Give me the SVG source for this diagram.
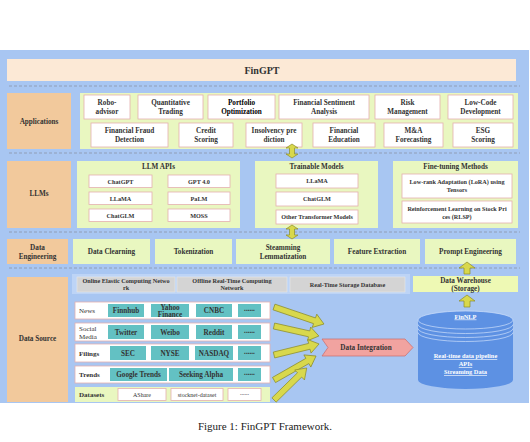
<svg xmlns="http://www.w3.org/2000/svg" width="530" height="442" viewBox="0 0 530 442">
<style>
text{font-family:"Liberation Serif","Times New Roman",serif;text-anchor:middle;fill:#333;}
.b{font-weight:bold;}
.t7{font-size:7.2px;font-weight:bold;}
.t6{font-size:6.2px;font-weight:bold;}
.lab{fill:#f2c99c;}
.pan{fill:#e9f7c0;}
.wb{fill:#fff;stroke:#e4b0b0;stroke-width:0.8;}
.teal{fill:#63c1c3;}
.gray{fill:#d4d4d4;stroke:#e6e6e6;stroke-width:0.6;}
.dash{stroke:#8a96a8;stroke-width:0.8;stroke-dasharray:3 2;fill:none;}
.ya{fill:#d8d84c;stroke:#8c8c2a;stroke-width:0.7;}
.rl{font-size:7px;text-anchor:start;fill:#333;}
.wt{fill:#fff;font-size:6.4px;font-weight:bold;text-decoration:underline;}
</style>
<defs>
<path id="dbl" d="M0,-7 L6,-3 L2.5,-3 L2.5,3 L6,3 L0,7 L-6,3 L-2.5,3 L-2.5,-3 L-6,-3 Z"/>
<path id="up" d="M0,-6 L8,0 L3,0 L3,6 L-3,6 L-3,0 L-8,0 Z"/>
</defs>
<rect width="530" height="442" fill="#fff"/>
<rect x="0" y="50" width="529" height="353" fill="#a8c6f2"/>

<g id="title">
<rect x="7" y="59" width="509" height="22" fill="#fce9d6"/>
<text x="262" y="73.5" style="font-size:10px;font-weight:bold;fill:#333">FinGPT</text>
</g>

<g id="dividers">
<line class="dash" x1="9" y1="86" x2="520" y2="86"/>
<line class="dash" x1="9" y1="153" x2="520" y2="153"/>
<line class="dash" x1="9" y1="232" x2="520" y2="232"/>
<line class="dash" x1="9" y1="268" x2="520" y2="268"/>
</g>

<g id="applications">
<rect class="lab" x="7" y="93" width="64" height="56"/>
<text class="t7" x="39" y="123.5">Applications</text>
<rect class="pan" x="80" y="93" width="438" height="56"/>
<g class="t7">
<rect class="wb" x="84" y="95" width="46" height="24"/>
<text x="107" y="104.5">Robo-<tspan x="107" dy="9">advisor</tspan></text>
<rect class="wb" x="138" y="95" width="65" height="24"/>
<text x="170.5" y="104.5">Quantitative<tspan x="170.5" dy="9">Trading</tspan></text>
<rect class="wb" x="208" y="95" width="67" height="24"/>
<text x="241.5" y="104.5" style="fill:#000">Portfolio<tspan x="241.5" dy="9">Optimization</tspan></text>
<rect class="wb" x="279" y="95" width="90" height="24"/>
<text x="324" y="104.5">Financial Sentiment<tspan x="324" dy="9">Analysis</tspan></text>
<rect class="wb" x="375" y="95" width="65" height="24"/>
<text x="407.5" y="104.5">Risk<tspan x="407.5" dy="9">Management</tspan></text>
<rect class="wb" x="448" y="95" width="65" height="24"/>
<text x="480.5" y="104.5">Low-Code<tspan x="480.5" dy="9">Development</tspan></text>

<rect class="wb" x="91" y="123" width="77" height="24"/>
<text x="129.5" y="132.5">Financial Fraud<tspan x="129.5" dy="9">Detection</tspan></text>
<rect class="wb" x="179" y="123" width="54" height="24"/>
<text x="206" y="132.5">Credit<tspan x="206" dy="9">Scoring</tspan></text>
<rect class="wb" x="246" y="123" width="56" height="24"/>
<text x="274" y="132.5">Insolvency pre<tspan x="274" dy="9">diction</tspan></text>
<rect class="wb" x="313" y="123" width="62" height="24"/>
<text x="344" y="132.5">Financial<tspan x="344" dy="9">Education</tspan></text>
<rect class="wb" x="384" y="123" width="59" height="24"/>
<text x="413.5" y="132.5">M&amp;A<tspan x="413.5" dy="9">Forecasting</tspan></text>
<rect class="wb" x="453" y="123" width="60" height="24"/>
<text x="483" y="132.5">ESG<tspan x="483" dy="9">Scoring</tspan></text>
</g>
</g>

<g id="llms">
<rect class="lab" x="7" y="161" width="64" height="67"/>
<text class="t7" x="39" y="196">LLMs</text>
</g>

<g id="llm-apis">
<rect class="pan" x="77" y="161" width="163" height="67"/>
<text class="t7" x="158.5" y="168.5">LLM APIs</text>
<g class="t6">
<rect class="wb" x="89" y="175" width="63" height="12.5"/>
<text x="120.5" y="183.5">ChatGPT</text>
<rect class="wb" x="168" y="175" width="62" height="12.5"/>
<text x="199" y="183.5">GPT 4.0</text>
<rect class="wb" x="89" y="192" width="63" height="12.5"/>
<text x="120.5" y="200.5">LLaMA</text>
<rect class="wb" x="168" y="192" width="62" height="12.5"/>
<text x="199" y="200.5">PaLM</text>
<rect class="wb" x="89" y="209" width="63" height="12.5"/>
<text x="120.5" y="217.5">ChatGLM</text>
<rect class="wb" x="168" y="209" width="62" height="12.5"/>
<text x="199" y="217.5">MOSS</text>
</g>
</g>

<g id="trainable-models">
<rect class="pan" x="255" y="161" width="123" height="67"/>
<text class="t7" x="316.5" y="168.5">Trainable Models</text>
<g class="t6">
<rect class="wb" x="276" y="174" width="82" height="14"/>
<text x="317" y="183.3">LLaMA</text>
<rect class="wb" x="276" y="192" width="82" height="14"/>
<text x="317" y="201.3">ChatGLM</text>
<rect class="wb" x="276" y="210" width="82" height="14"/>
<text x="317" y="219.3">Other Transformer Models</text>
</g>
</g>

<g id="fine-tuning">
<rect class="pan" x="393" y="161" width="125" height="67"/>
<text class="t7" x="455.5" y="168.5">Fine-tuning Methods</text>
<g class="t6">
<rect class="wb" x="402" y="174" width="110" height="24"/>
<text x="457" y="184">Low-rank Adaptation (LoRA) using<tspan x="457" dy="8">Tensors</tspan></text>
<rect class="wb" x="402" y="201" width="110" height="22"/>
<text x="457" y="210.5">Reinforcement Learning on Stock Pri<tspan x="457" dy="8">ces (RLSP)</tspan></text>
</g>
</g>

<g id="data-engineering">
<rect class="lab" x="7" y="239" width="61" height="25"/>
<text class="t7" x="37.5" y="249.5">Data<tspan x="37.5" dy="9">Engineering</tspan></text>
<g class="t7">
<rect class="pan" x="73" y="239" width="77" height="25"/>
<text x="111.5" y="254">Data Clearning</text>
<rect class="pan" x="155" y="239" width="77" height="25"/>
<text x="193.5" y="254">Tokenization</text>
<rect class="pan" x="236" y="239" width="94" height="25"/>
<text x="283" y="249.5">Steamming<tspan x="283" dy="9">Lemmatization</tspan></text>
<rect class="pan" x="334" y="239" width="86" height="25"/>
<text x="377" y="254">Feature Extraction</text>
<rect class="pan" x="425" y="239" width="91" height="25"/>
<text x="470.5" y="254">Prompt Engineering</text>
</g>
</g>

<g id="data-source">
<rect class="lab" x="7" y="277" width="61" height="125"/>
<text class="t7" x="37.5" y="341">Data Source</text>
</g>

<g id="infrastructure">
<rect x="72" y="274" width="338" height="20" fill="#bdd4f6"/>
<g class="t6">
<rect class="gray" x="77" y="277" width="98" height="15"/>
<text x="126" y="283.3">Online Elastic Computing Netwo<tspan x="126" dy="7">rk</tspan></text>
<rect class="gray" x="177" y="277" width="110" height="15"/>
<text x="232" y="283.3">Offline Real-Time Computing<tspan x="232" dy="7">Network</tspan></text>
<rect class="gray" x="290" y="277" width="115" height="15"/>
<text x="347.5" y="286.7">Real-Time Storage Database</text>
</g>
</g>

<g id="data-warehouse">
<rect x="413" y="276" width="105" height="16" fill="#eef9b4"/>
<text class="t7" x="465.5" y="282.5">Data Warehouse<tspan x="465.5" dy="8">(Storage)</tspan></text>
</g>

<g id="news">
<rect class="wb" x="75" y="302" width="195" height="17"/>
<text class="rl" x="79" y="313">News</text>
<g class="t7">
<rect class="teal" x="108" y="304" width="36" height="13"/>
<text x="126" y="313">Finnhub</text>
<rect class="teal" x="151" y="304" width="38" height="13"/>
<text x="170" y="309.5">Yahoo<tspan x="170" dy="7">Finance</tspan></text>
<rect class="teal" x="196" y="304" width="36" height="13"/>
<text x="214" y="313">CNBC</text>
<rect class="teal" x="238" y="304" width="23" height="13"/>
<text x="249.5" y="311">......</text>
</g>
</g>

<g id="social-media">
<rect class="wb" x="75" y="323" width="195" height="18"/>
<text class="rl" x="79" y="330.5">Social<tspan x="79" dy="8">Media</tspan></text>
<g class="t7">
<rect class="teal" x="108" y="325" width="36" height="14"/>
<text x="126" y="334.5">Twitter</text>
<rect class="teal" x="151" y="325" width="38" height="14"/>
<text x="170" y="334.5">Weibo</text>
<rect class="teal" x="196" y="325" width="36" height="14"/>
<text x="214" y="334.5">Reddit</text>
<rect class="teal" x="238" y="325" width="23" height="14"/>
<text x="249.5" y="332.5">......</text>
</g>
</g>

<g id="filings">
<rect class="wb" x="75" y="344" width="195" height="18"/>
<text class="rl b" x="79" y="355.5">Filings</text>
<g class="t7">
<rect class="teal" x="110" y="346" width="36" height="14"/>
<text x="128" y="355.5">SEC</text>
<rect class="teal" x="151" y="346" width="38" height="14"/>
<text x="170" y="355.5">NYSE</text>
<rect class="teal" x="195" y="346" width="38" height="14"/>
<text x="214" y="355.5">NASDAQ</text>
<rect class="teal" x="238" y="346" width="23" height="14"/>
<text x="249.5" y="353.5">......</text>
</g>
</g>

<g id="trends">
<rect class="wb" x="75" y="366" width="195" height="17"/>
<text class="rl b" x="79" y="377">Trends</text>
<g class="t7">
<rect class="teal" x="110" y="368" width="57" height="13"/>
<text x="138.5" y="377">Google Trends</text>
<rect class="teal" x="169" y="368" width="64" height="13"/>
<text x="201" y="377">Seeking Alpha</text>
<rect class="teal" x="238" y="368" width="23" height="13"/>
<text x="249.5" y="375">......</text>
</g>
</g>

<g id="datasets">
<rect x="75" y="387" width="195" height="15" fill="#e9f7c0"/>
<text class="rl b" x="79" y="397">Datasets</text>
<g style="font-size:6px">
<rect class="wb" x="118" y="388.5" width="48" height="12"/>
<text x="142" y="396.5">AShare</text>
<rect class="wb" x="171" y="388.5" width="52" height="12"/>
<text x="197" y="396.5">stocknet-dataset</text>
<rect class="wb" x="228" y="388.5" width="33" height="12"/>
<text x="244.5" y="395">......</text>
</g>
</g>

<g id="data-integration">
<path d="M322,339 L405,339 L413,347.5 L405,356 L322,356 L328,347.5 Z" fill="#f1a3a0" stroke="#c96a6a" stroke-width="0.7"/>
<text class="t7" x="366" y="350">Data Integration</text>
</g>

<g id="finnlp">
<path d="M418,320 L418,380 A47.5,9 0 0 0 513,380 L513,320 Z" fill="#5d91e3"/>
<ellipse cx="465.5" cy="320" rx="47.5" ry="9" fill="#5d91e3" stroke="#cfe0fb" stroke-width="0.7"/>
<path d="M418,324.5 A47.5,9 0 0 0 513,324.5 M418,328.5 A47.5,9 0 0 0 513,328.5 M418,332.5 A47.5,9 0 0 0 513,332.5" fill="none" stroke="#cfe0fb" stroke-width="0.7"/>
<text class="wt" x="465.5" y="318.5">FinNLP</text>
<text class="wt" x="465.5" y="358">Real-time data pipeline</text>
<text class="wt" x="465.5" y="366">APIs</text>
<text class="wt" x="465.5" y="374">Streaming Data</text>
</g>

<g id="connectors">
<use href="#dbl" class="ya" x="292" y="151"/>
<use href="#dbl" class="ya" x="292" y="232"/>
<use href="#up" class="ya" x="467" y="268"/>
<use href="#up" class="ya" x="467" y="301"/>
<g class="ya">
<path transform="translate(274,307) rotate(18.8)" d="M0,-3 L42.8,-3 L42.8,-7 L52.8,0 L42.8,7 L42.8,3 L0,3 Z"/>
<path transform="translate(274,326) rotate(12.6)" d="M0,-3 L36,-3 L36,-7 L46,0 L36,7 L36,3 L0,3 Z"/>
<path transform="translate(274,355) rotate(-13.8)" d="M0,-3 L36.4,-3 L36.4,-7 L46.4,0 L36.4,7 L36.4,3 L0,3 Z"/>
<path transform="translate(274,380) rotate(-29.7)" d="M0,-3 L38.4,-3 L38.4,-7 L48.4,0 L38.4,7 L38.4,3 L0,3 Z"/>
<path transform="translate(274,400) rotate(-44.4)" d="M0,-3 L35.8,-3 L35.8,-7 L45.8,0 L35.8,7 L35.8,3 L0,3 Z"/>
</g>
</g>

<text x="265" y="430" style="font-size:11px;fill:#222">Figure 1: FinGPT Framework.</text>
</svg>
